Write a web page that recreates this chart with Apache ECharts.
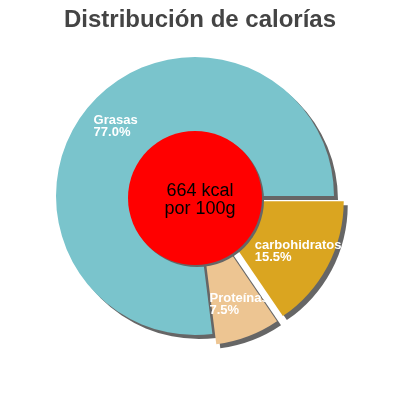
<!DOCTYPE html>
<html>
<head>
<meta charset="utf-8">
<script src="https://cdn.jsdelivr.net/npm/echarts@6/dist/echarts.min.js"></script>
<style>
  html, body { margin: 0; padding: 0; background: #fff; }
  #chart { width: 400px; height: 400px; }
</style>
</head>
<body>
<div id="chart"></div>
<script>
// 数据
var categories = ['Grasas', 'Proteínas', 'carbohidratos'];
var percents = [77.0, 7.5, 15.5];
var colors = ['#7ac4cc', '#edc592', '#daa520'];
var exploded = [false, true, true];
var labelShift = [[-47, -22], [-15, 30], [-14, 16]];
var energyText = ['664 kcal', 'por 100g'];

var chart = echarts.init(document.getElementById('chart'));

var pieData = [];
for (var i = 0; i < categories.length; i++) {
    pieData.push({
        name: categories[i],
        value: percents[i],
        selected: exploded[i],
        itemStyle: { color: colors[i] }
    });
}

var option = {
    animation: false,
    title: {
        text: 'Distribución de calorías',
        left: 'center',
        top: 3,
        textStyle: {
            color: '#444',
            fontSize: 24,
            fontWeight: 'bold',
            fontFamily: 'Liberation Sans, Arial, sans-serif'
        }
    },
    series: [
        {
            name: 'calorias',
            type: 'pie',
            z: 2,
            center: [195, 196],
            radius: [0, 139],
            startAngle: 0,
            clockwise: false,
            selectedMode: 'multiple',
            selectedOffset: 11,
            silent: true,
            itemStyle: {
                shadowColor: '#666',
                shadowBlur: 0,
                shadowOffsetX: 4,
                shadowOffsetY: 4
            },
            label: {
                show: true,
                position: 'inside',
                color: '#fff',
                fontSize: 13,
                fontWeight: 'bold',
                lineHeight: 12,
                fontFamily: 'Liberation Sans, Arial, sans-serif',
                formatter: function (p) {
                    return p.name + '\n' + p.value.toFixed(1) + '%';
                }
            },
            labelLayout: function (params) {
                var s = labelShift[params.dataIndex];
                return { align: 'left', dx: s[0], dy: s[1] };
            },
            labelLine: { show: false },
            data: pieData
        },
        {
            name: 'energia',
            type: 'pie',
            z: 5,
            center: [195, 198],
            radius: [0, 67],
            silent: true,
            itemStyle: {
                color: '#ff0000',
                shadowColor: '#666',
                shadowBlur: 0,
                shadowOffsetX: 2,
                shadowOffsetY: 2
            },
            label: {
                show: true,
                position: 'center',
                offset: [5, 2],
                color: '#000',
                fontSize: 18,
                lineHeight: 18,
                fontFamily: 'Liberation Sans, Arial, sans-serif',
                formatter: energyText.join('\n')
            },
            labelLine: { show: false },
            data: [{ value: 1, name: 'energia' }]
        }
    ]
};
chart.setOption(option);
</script>
</body>
</html>
